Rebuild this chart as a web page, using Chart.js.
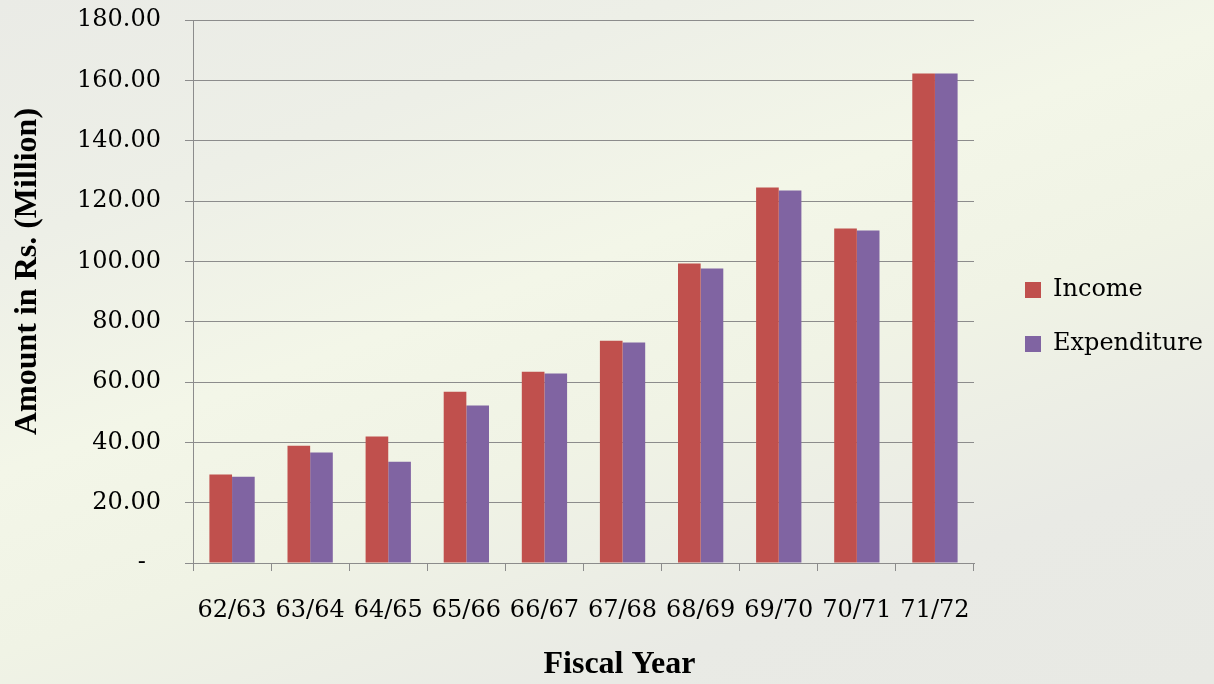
<!DOCTYPE html>
<html>
<head>
<meta charset="utf-8">
<script src="https://cdn.jsdelivr.net/npm/chart.js@4.4.0/dist/chart.umd.min.js"></script>
<style>
  html, body { margin: 0; padding: 0; }
  body {
    width: 1214px; height: 684px; overflow: hidden;
    background: linear-gradient(160deg, #eaebe6 0%, #edefe7 22%, #f3f6e8 42%, #f0f3e5 58%, #e9eae5 80%, #e8e9e4 100%);
  }
  #wrap { position: relative; width: 1214px; height: 684px; }
</style>
</head>
<body>
<div id="wrap"><canvas id="mycanvas"></canvas></div>
<script>
var years = ['62/63', '63/64', '64/65', '65/66', '66/67', '67/68', '68/69', '69/70', '70/71', '71/72'];
var income = [29.3, 38.9, 41.9, 56.8, 63.4, 73.7, 99.3, 124.5, 110.9, 162.3];
var expenditure = [28.6, 36.6, 33.6, 52.2, 62.8, 73.1, 97.6, 123.5, 110.2, 162.3];
var yTicks = [0, 20, 40, 60, 80, 100, 120, 140, 160, 180];

var tickFont = "'DejaVu Serif', serif";
var titleFont = "'Liberation Serif', 'DejaVu Serif', serif";
var gridColor = '#8c8c8c';

// legend sits a bit further from the plot and higher than chart.js puts it
var legendPlace = {
  id: 'legendPlace',
  beforeLayout: function(chart) {
    var lg = chart.legend;
    if (lg && !lg._fixedWidth) {
      var fit = lg.fit;
      lg.fit = function() { fit.call(this); this.width = 240; };
      lg._fixedWidth = true;
    }
  },
  afterLayout: function(chart) {
    var lg = chart.legend;
    if (!lg) return;
    lg.left += 21; lg.right += 21;
    lg.top -= 35; lg.bottom -= 35;
  }
};

var chartdata = {
  labels: years,
  datasets: [
    {
      label: 'Income',
      backgroundColor: '#C0504D',
      borderWidth: 0,
      data: income
    },
    {
      label: 'Expenditure',
      backgroundColor: '#8064A2',
      borderWidth: 0,
      data: expenditure
    }
  ]
};

var ctx = document.getElementById('mycanvas');
var barGraph = new Chart(ctx, {
  type: 'bar',
  data: chartdata,
  plugins: [legendPlace],
  options: {
    responsive: true,
    maintainAspectRatio: false,
    animation: false,
    layout: { padding: { left: 5, top: 20, right: 0, bottom: 0 } },
    datasets: { bar: { categoryPercentage: 0.58, barPercentage: 1.0 } },
    plugins: {
      tooltip: { enabled: false },
      legend: {
        position: 'right',
        align: 'center',
        labels: {
          color: '#000',
          font: { family: tickFont, size: 24 },
          boxWidth: 16,
          boxHeight: 16,
          padding: 30
        }
      }
    },
    scales: {
      x: {
        grid: { offset: true, drawOnChartArea: false, drawTicks: true, tickLength: 8, color: gridColor },
        border: { display: true, color: gridColor, width: 1 },
        ticks: { color: '#000', font: { family: tickFont, size: 24 }, padding: 25, maxRotation: 0, autoSkip: false },
        // leading spaces nudge the title right, as in the original
        title: { display: true, text: '         Fiscal Year', color: '#000', font: { family: titleFont, size: 32, weight: 'bold' }, padding: { top: 4, bottom: 0 } },
        afterFit: function(scale) { scale.height = 121; }
      },
      y: {
        min: 0,
        max: 180,
        afterBuildTicks: function(scale) {
          scale.ticks = yTicks.map(function(v) { return { value: v }; });
        },
        grid: { color: gridColor, tickLength: 8, lineWidth: 1 },
        border: { display: true, color: gridColor, width: 1 },
        ticks: {
          color: '#000',
          font: { family: tickFont, size: 24 },
          padding: 24,
          callback: function(value) {
            return value === 0 ? '-  ' : value.toFixed(2);
          }
        },
        title: { display: true, text: '     Amount in Rs. (Million)', color: '#000', font: { family: titleFont, size: 32, weight: 'bold' }, padding: { top: 4, bottom: 4 } },
        afterFit: function(scale) {
          scale.width = 188;
          scale.paddingTop = 0;
          scale.paddingBottom = 0;
        }
      }
    }
  }
});
</script>
</body>
</html>
